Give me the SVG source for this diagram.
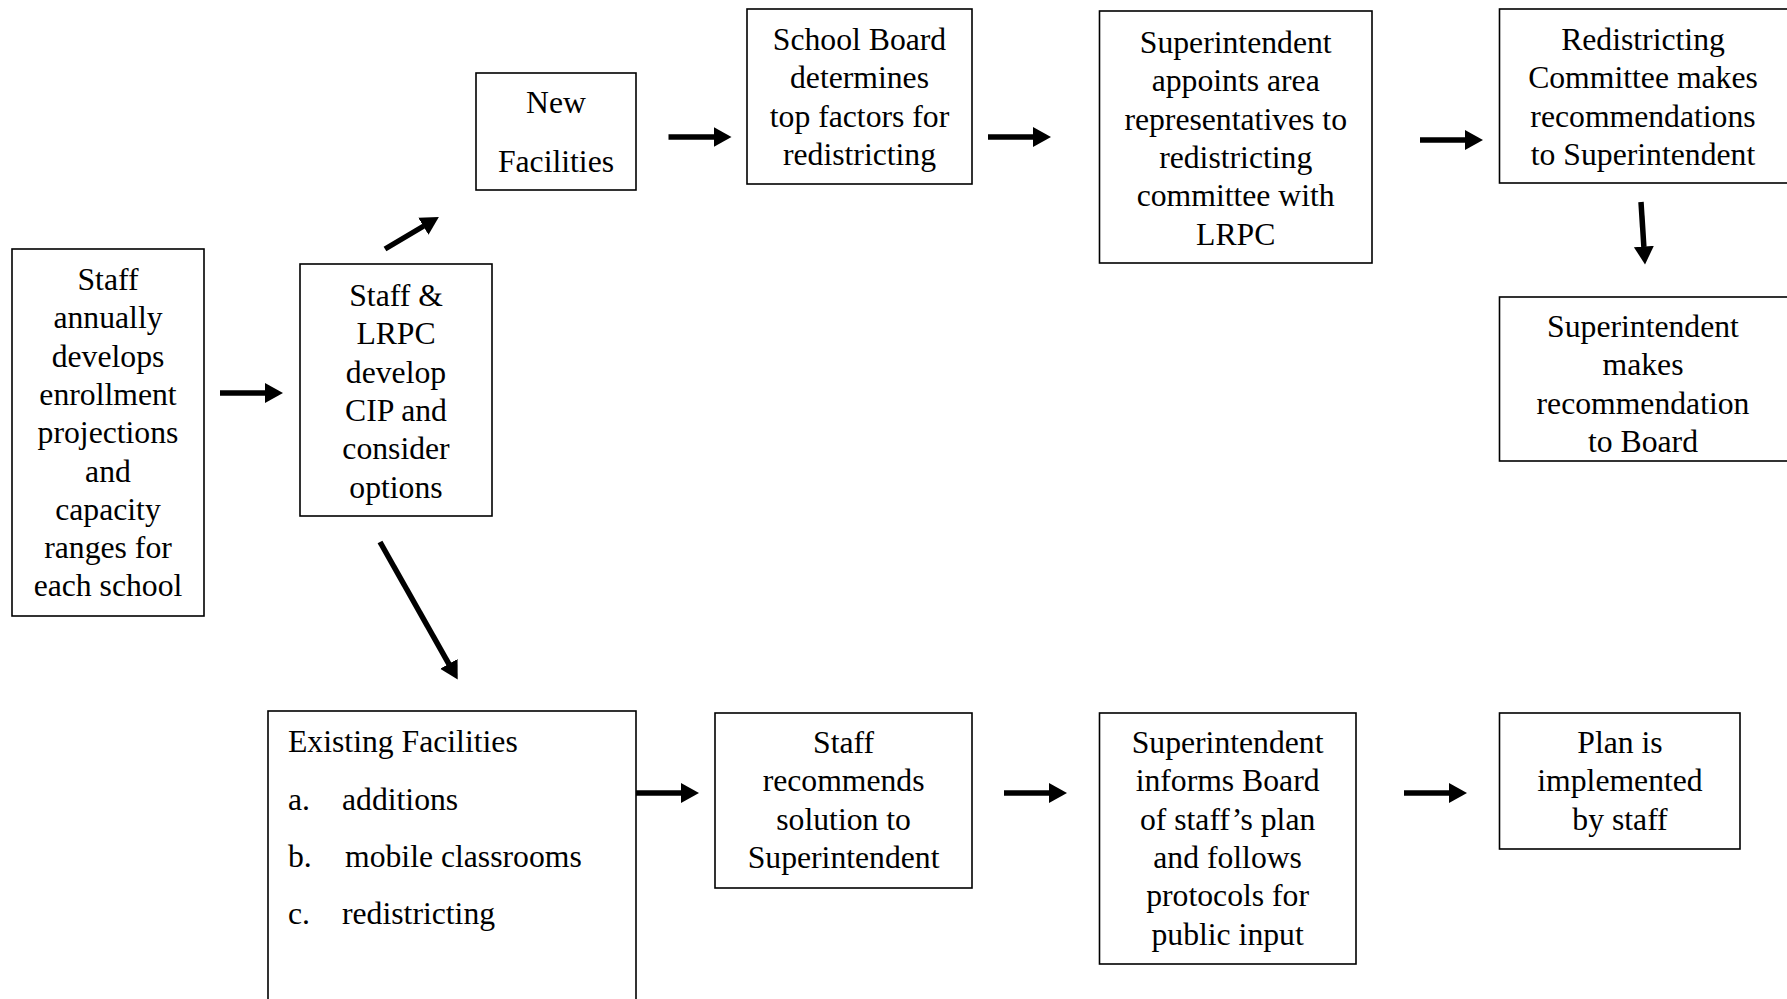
<svg xmlns="http://www.w3.org/2000/svg" width="1787" height="999" viewBox="0 0 1787 999">
<style>
  .box { fill: #fff; stroke: #000; stroke-width: 1.6; }
  text { font-family: "Liberation Serif", "Times New Roman", serif; font-size: 31.7px; fill: #000; }
  .c { text-anchor: middle; }
  .conn { stroke: #000; stroke-width: 5.5; fill: none; marker-end: url(#ah); }
</style>
<defs>
  <marker id="ah" markerUnits="userSpaceOnUse" markerWidth="19" markerHeight="21" refX="0.5" refY="10" orient="auto">
    <path d="M0,0 L18,10 L0,20 z" fill="#000"/>
  </marker>
</defs>
<rect width="1787" height="999" fill="#fff"/>

<g id="connectors">
  <line class="conn" x1="220" y1="393" x2="265.5" y2="393"/>
  <line class="conn" x1="385" y1="249" x2="423.8" y2="226"/>
  <line class="conn" x1="380" y1="542" x2="449.1" y2="664.3"/>
  <line class="conn" x1="668.5" y1="137" x2="714" y2="137"/>
  <line class="conn" x1="988" y1="137" x2="1033.5" y2="137"/>
  <line class="conn" x1="1420" y1="140" x2="1465.5" y2="140"/>
  <line class="conn" x1="1641" y1="202" x2="1643.9" y2="247"/>
  <line class="conn" x1="636" y1="793" x2="681.5" y2="793"/>
  <line class="conn" x1="1004" y1="793" x2="1049.5" y2="793"/>
  <line class="conn" x1="1404" y1="793" x2="1449.5" y2="793"/>
</g>

<g id="staff-annually">
  <rect class="box" x="12" y="249" width="192" height="367"/>
  <text class="c" x="108" y="290">Staff</text>
  <text class="c" x="108" y="328.3">annually</text>
  <text class="c" x="108" y="366.6">develops</text>
  <text class="c" x="108" y="404.9">enrollment</text>
  <text class="c" x="108" y="443.2">projections</text>
  <text class="c" x="108" y="481.5">and</text>
  <text class="c" x="108" y="519.8">capacity</text>
  <text class="c" x="108" y="558.1">ranges for</text>
  <text class="c" x="108" y="596.4">each school</text>
</g>

<g id="staff-lrpc">
  <rect class="box" x="300" y="264" width="192" height="252"/>
  <text class="c" x="396" y="306">Staff &amp;</text>
  <text class="c" x="396" y="344.3">LRPC</text>
  <text class="c" x="396" y="382.6">develop</text>
  <text class="c" x="396" y="420.9">CIP and</text>
  <text class="c" x="396" y="459.2">consider</text>
  <text class="c" x="396" y="497.5">options</text>
</g>

<g id="new-facilities">
  <rect class="box" x="476" y="73" width="160" height="117"/>
  <text class="c" x="556" y="113">New</text>
  <text class="c" x="556" y="172">Facilities</text>
</g>

<g id="school-board">
  <rect class="box" x="747" y="9" width="225" height="175"/>
  <text class="c" x="859.5" y="50">School Board</text>
  <text class="c" x="859.5" y="88.3">determines</text>
  <text class="c" x="859.5" y="126.6">top factors for</text>
  <text class="c" x="859.5" y="164.9">redistricting</text>
</g>

<g id="superintendent-appoints">
  <rect class="box" x="1099.5" y="11" width="272.5" height="252"/>
  <text class="c" x="1235.7" y="53">Superintendent</text>
  <text class="c" x="1235.7" y="91.3">appoints area</text>
  <text class="c" x="1235.7" y="129.6">representatives to</text>
  <text class="c" x="1235.7" y="167.9">redistricting</text>
  <text class="c" x="1235.7" y="206.2">committee with</text>
  <text class="c" x="1235.7" y="244.5">LRPC</text>
</g>

<g id="redistricting-committee">
  <rect class="box" x="1499.5" y="9" width="300" height="174"/>
  <text class="c" x="1643" y="50">Redistricting</text>
  <text class="c" x="1643" y="88.3">Committee makes</text>
  <text class="c" x="1643" y="126.6">recommendations</text>
  <text class="c" x="1643" y="164.9">to Superintendent</text>
</g>

<g id="superintendent-makes">
  <rect class="box" x="1499.5" y="297" width="300" height="164"/>
  <text class="c" x="1643" y="337">Superintendent</text>
  <text class="c" x="1643" y="375.3">makes</text>
  <text class="c" x="1643" y="413.6">recommendation</text>
  <text class="c" x="1643" y="451.9">to Board</text>
</g>

<g id="existing-facilities">
  <rect class="box" x="268" y="711" width="368" height="300"/>
  <text x="288" y="752">Existing Facilities</text>
  <text x="288" y="810">a.</text>
  <text x="342" y="810">additions</text>
  <text x="288" y="867">b.</text>
  <text x="345" y="867">mobile classrooms</text>
  <text x="288" y="924">c.</text>
  <text x="342" y="924">redistricting</text>
</g>

<g id="staff-recommends">
  <rect class="box" x="715" y="713" width="257" height="175"/>
  <text class="c" x="843.6" y="753">Staff</text>
  <text class="c" x="843.6" y="791.3">recommends</text>
  <text class="c" x="843.6" y="829.6">solution to</text>
  <text class="c" x="843.6" y="867.9">Superintendent</text>
</g>

<g id="superintendent-informs">
  <rect class="box" x="1099.5" y="713" width="256.5" height="251"/>
  <text class="c" x="1227.6" y="753">Superintendent</text>
  <text class="c" x="1227.6" y="791.3">informs Board</text>
  <text class="c" x="1227.6" y="829.6">of staff’s plan</text>
  <text class="c" x="1227.6" y="867.9">and follows</text>
  <text class="c" x="1227.6" y="906.2">protocols for</text>
  <text class="c" x="1227.6" y="944.5">public input</text>
</g>

<g id="plan-implemented">
  <rect class="box" x="1499.5" y="713" width="240.5" height="136"/>
  <text class="c" x="1620" y="753">Plan is</text>
  <text class="c" x="1620" y="791.3">implemented</text>
  <text class="c" x="1620" y="829.6">by staff</text>
</g>
</svg>
